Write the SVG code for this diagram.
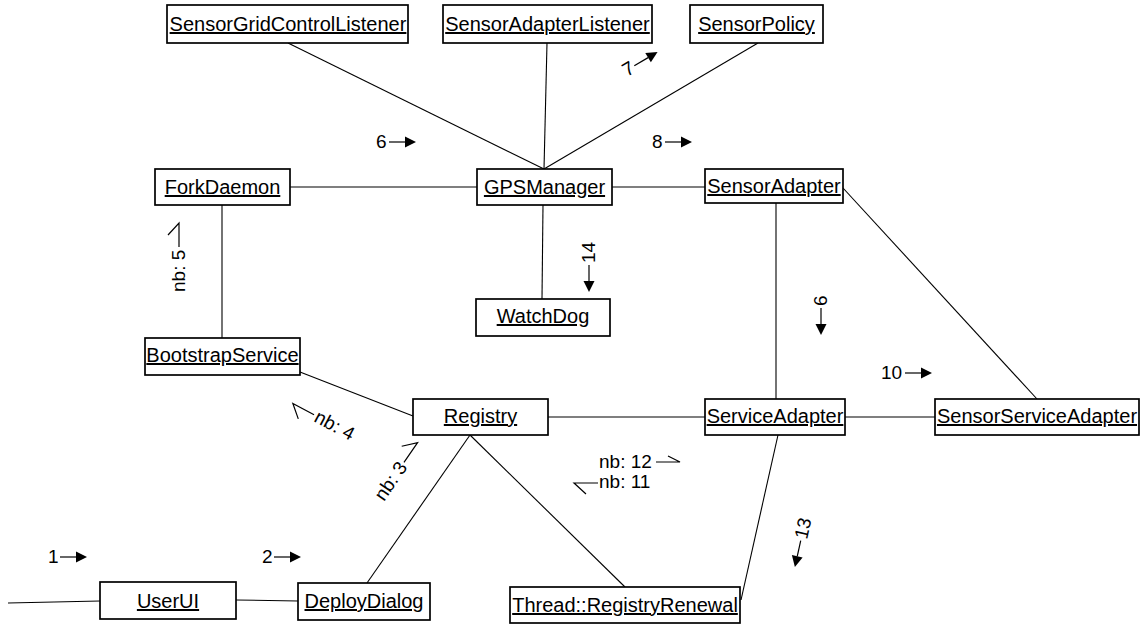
<svg xmlns="http://www.w3.org/2000/svg" xmlns:xlink="http://www.w3.org/1999/xlink" width="1140" height="624" viewBox="0 0 1140 624">
  <style>
    .box { fill: #ffffff; stroke: #000000; stroke-width: 1.7; }
    .name { font-family: "Liberation Sans", Arial, sans-serif; font-size: 20px; text-anchor: middle; text-decoration: underline; fill: #000000; }
    .msg { font-family: "Liberation Sans", Arial, sans-serif; font-size: 19px; fill: #000000; }
    .link { stroke: #000000; stroke-width: 1.1; fill: none; }
    .arr { stroke: #000000; stroke-width: 1.2; fill: none; }
    .head { fill: #000000; stroke: none; }
  </style>
  <defs>
    <!-- filled message arrow pointing forward (+x) -->
    <g id="fwd">
      <line class="arr" x1="0" y1="0" x2="16" y2="0"/>
      <path class="head" d="M16,-5.5 L27,0 L16,5.5 Z"/>
    </g>
    <!-- filled message arrow pointing backward (-x) -->
    <g id="bwd">
      <line class="arr" x1="0" y1="0" x2="-16" y2="0"/>
      <path class="head" d="M-16,-5.5 L-27,0 L-16,5.5 Z"/>
    </g>
    <!-- half (asynchronous) arrows -->
    <g id="hfwd">
      <path class="arr" d="M0,0 L24,0 L12,-11"/>
    </g>
    <g id="hfwd-flat">
      <path class="arr" d="M0,0 L24,0 L12,-6"/>
    </g>
    <g id="hbwd">
      <path class="arr" d="M0,0 L-24,0 L-12,11"/>
    </g>
  </defs>

  <!-- connectors -->
  <g id="links">
    <line class="link" x1="288" y1="43" x2="544" y2="169"/>
    <line class="link" x1="547" y1="43" x2="544" y2="169"/>
    <line class="link" x1="758" y1="43" x2="544" y2="169"/>
    <line class="link" x1="290" y1="187" x2="477" y2="187"/>
    <line class="link" x1="612" y1="187" x2="705" y2="187"/>
    <line class="link" x1="543" y1="205" x2="542" y2="299"/>
    <line class="link" x1="222" y1="205" x2="222" y2="338"/>
    <line class="link" x1="300" y1="372" x2="413" y2="416"/>
    <line class="link" x1="776" y1="203" x2="776" y2="399"/>
    <line class="link" x1="843" y1="188" x2="1037" y2="399"/>
    <line class="link" x1="548" y1="417" x2="705" y2="417"/>
    <line class="link" x1="845" y1="417" x2="935" y2="417"/>
    <line class="link" x1="470" y1="435" x2="367" y2="583"/>
    <line class="link" x1="470" y1="435" x2="625" y2="587"/>
    <line class="link" x1="778" y1="435" x2="741" y2="600"/>
    <line class="link" x1="236" y1="600" x2="298" y2="601"/>
    <line class="link" x1="8" y1="603" x2="100" y2="601"/>
  </g>

  <!-- objects -->
  <g id="SensorGridControlListener">
    <rect class="box" x="167" y="5" width="241" height="38"/>
    <text class="name" x="288" y="31">SensorGridControlListener</text>
  </g>
  <g id="SensorAdapterListener">
    <rect class="box" x="443" y="5" width="209" height="38"/>
    <text class="name" x="547.5" y="31">SensorAdapterListener</text>
  </g>
  <g id="SensorPolicy">
    <rect class="box" x="690" y="5" width="133" height="38"/>
    <text class="name" x="756.5" y="31">SensorPolicy</text>
  </g>
  <g id="ForkDaemon">
    <rect class="box" x="155" y="169" width="135" height="36"/>
    <text class="name" x="222.5" y="194">ForkDaemon</text>
  </g>
  <g id="GPSManager">
    <rect class="box" x="477" y="169" width="135" height="36"/>
    <text class="name" x="544.5" y="194">GPSManager</text>
  </g>
  <g id="SensorAdapter">
    <rect class="box" x="705" y="169" width="138" height="34"/>
    <text class="name" x="774" y="193">SensorAdapter</text>
  </g>
  <g id="WatchDog">
    <rect class="box" x="476" y="299" width="134" height="37"/>
    <text class="name" x="543" y="323">WatchDog</text>
  </g>
  <g id="BootstrapService">
    <rect class="box" x="145" y="338" width="155" height="37"/>
    <text class="name" x="222.5" y="362">BootstrapService</text>
  </g>
  <g id="Registry">
    <rect class="box" x="413" y="399" width="135" height="36"/>
    <text class="name" x="480.5" y="423">Registry</text>
  </g>
  <g id="ServiceAdapter">
    <rect class="box" x="705" y="399" width="140" height="36"/>
    <text class="name" x="775" y="423">ServiceAdapter</text>
  </g>
  <g id="SensorServiceAdapter">
    <rect class="box" x="935" y="399" width="204" height="36"/>
    <text class="name" x="1037" y="423">SensorServiceAdapter</text>
  </g>
  <g id="UserUI">
    <rect class="box" x="100" y="582" width="136" height="37"/>
    <text class="name" x="168" y="608">UserUI</text>
  </g>
  <g id="DeployDialog">
    <rect class="box" x="298" y="583" width="132" height="37"/>
    <text class="name" x="364" y="608">DeployDialog</text>
  </g>
  <g id="RegistryRenewal">
    <rect class="box" x="510" y="587" width="230" height="36"/>
    <text class="name" x="625" y="612">Thread::RegistryRenewal</text>
  </g>

  <!-- message labels -->
  <g id="messages">
    <g transform="translate(48,563)"><text class="msg">1</text><use xlink:href="#fwd" href="#fwd" x="12" y="-6"/></g>
    <g transform="translate(262,563)"><text class="msg">2</text><use xlink:href="#fwd" href="#fwd" x="12" y="-6"/></g>
    <g transform="translate(376,148)"><text class="msg">6</text><use xlink:href="#fwd" href="#fwd" x="13" y="-6"/></g>
    <g transform="translate(652,148)"><text class="msg">8</text><use xlink:href="#fwd" href="#fwd" x="13" y="-6"/></g>
    <g transform="translate(881,379)"><text class="msg">10</text><use xlink:href="#fwd" href="#fwd" x="24" y="-6"/></g>
    <g transform="translate(627,77) rotate(-30.5)"><text class="msg">7</text><use xlink:href="#fwd" href="#fwd" x="12" y="-6"/></g>
    <g transform="translate(595,263) rotate(-90)"><text class="msg">14</text><use xlink:href="#bwd" href="#bwd" x="-2" y="-6"/></g>
    <g transform="translate(827,306) rotate(-90)"><text class="msg">6</text><use xlink:href="#bwd" href="#bwd" x="-2" y="-6"/></g>
    <g transform="translate(807,540) rotate(-77.5)"><text class="msg">13</text><use xlink:href="#bwd" href="#bwd" x="-2" y="-6"/></g>
    <g transform="translate(185,292) rotate(-90)"><text class="msg">nb: 5</text><use xlink:href="#hfwd" href="#hfwd" x="45" y="-6"/></g>
    <g transform="translate(313,421) rotate(28)"><text class="msg">nb: 4</text><use xlink:href="#hbwd" href="#hbwd" x="-2" y="-6"/></g>
    <g transform="translate(384,502) rotate(-55.5)"><text class="msg">nb: 3</text><use xlink:href="#hfwd" href="#hfwd" x="44" y="-6"/></g>
    <g transform="translate(599,468)"><text class="msg">nb: 12</text><use xlink:href="#hfwd-flat" href="#hfwd-flat" x="57" y="-6"/></g>
    <g transform="translate(599,488)"><text class="msg">nb: 11</text><use xlink:href="#hbwd" href="#hbwd" x="-1" y="-5"/></g>
  </g>
</svg>
